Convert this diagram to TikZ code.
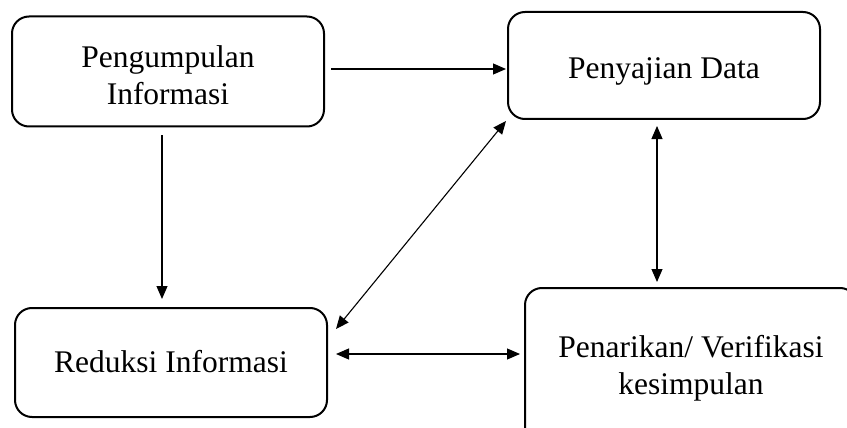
\documentclass[tikz,border=0pt]{standalone}
\usepackage{fontspec}
\setmainfont{Liberation Serif}
\usetikzlibrary{arrows.meta}
\tikzset{
  box/.style={draw, line width=2pt, rounded corners=17pt, align=center,
    font=\fontsize{31.5}{36.5}\selectfont, inner sep=0pt},
  link/.style={line width=1.1pt, -{Triangle[length=13pt,width=11pt]}},
  both/.style={line width=1.1pt, {Triangle[length=13pt,width=11pt]}-{Triangle[length=13pt,width=11pt]}}
}
\begin{document}
\begin{tikzpicture}[x=1pt,y=1pt]
\useasboundingbox (0,0) rectangle (847,-428);
\clip (0,0) rectangle (847,-428);
\node[box, minimum width=312pt, minimum height=110pt, text height=65pt, text depth=0pt] (A) at (168,-71.5) {Pengumpulan\\Informasi};
\node[box, minimum width=312pt, minimum height=107pt, text height=32pt, text depth=7pt] (B) at (664,-65.5) {Penyajian Data};
\node[box, minimum width=312pt, minimum height=109pt, text height=27pt, text depth=7pt] (C) at (171,-362.5) {Reduksi Informasi};
\node[box, minimum width=332pt, minimum height=164pt, text depth=10pt] (D) at (691,-370) {Penarikan/ Verifikasi\\kesimpulan};
\draw[link] ([shift={(6,2.5)}]A.east) -- ([shift={(-1,-3.5)}]B.west);
\draw[link] ([shift={(-6,-7.5)}]A.south) -- ([shift={(-9,8)}]C.north);
\draw[both] ([shift={(8,-22)}]C.north east) -- ([shift={(-1,-1)}]B.south west);
\draw[both] ([shift={(8,8.5)}]C.east) -- ([shift={(-4,16)}]D.west);
\draw[both] ([shift={(-7,-6)}]B.south) -- ([shift={(-34,5)}]D.north);
\end{tikzpicture}
\end{document}
